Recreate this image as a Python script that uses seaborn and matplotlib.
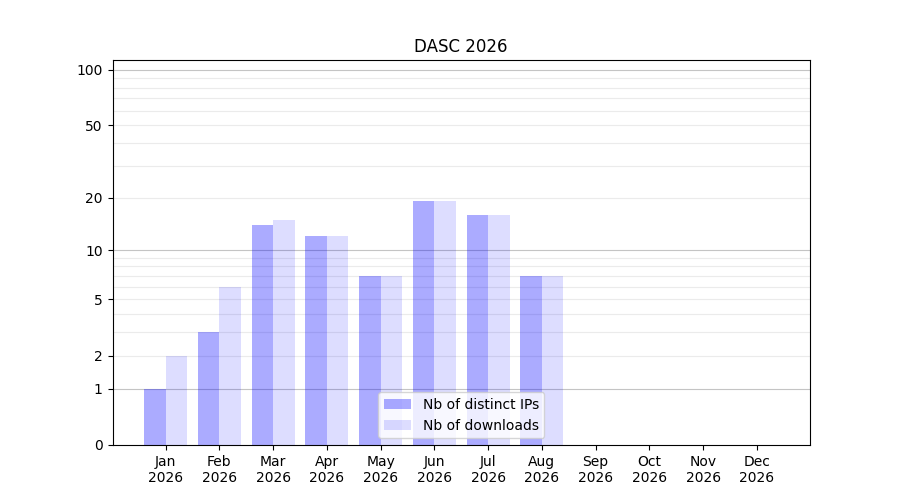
import numpy as np
import pandas as pd
import matplotlib
matplotlib.use("Agg")
import matplotlib.pyplot as plt
import seaborn as sns

months = ["Jan", "Feb", "Mar", "Apr", "May", "Jun", "Jul", "Aug", "Sep", "Oct", "Nov", "Dec"]
year = "2026"
distinct_ips = [1, 3, 14, 12, 7, 19, 16, 7, 0, 0, 0, 0]
downloads = [2, 6, 15, 12, 7, 19, 16, 7, 0, 0, 0, 0]
series_names = ["Nb of distinct IPs", "Nb of downloads"]
ytick_values = [0, 1, 2, 5, 10, 20, 50, 100]
title = "DASC 2026"

labels = [f"{m}\n{year}" for m in months]
df = pd.DataFrame({
    "month": labels * 2,
    "value": distinct_ips + downloads,
    "series": [series_names[0]] * len(months) + [series_names[1]] * len(months),
})

fig, ax = plt.subplots(figsize=(9, 5), dpi=100)


def fwd(y):
    y = np.asarray(y, dtype=float)
    return np.log10(1 + np.clip(y, -0.999999, None))


def inv(y):
    return 10 ** np.asarray(y, dtype=float) - 1


ax.set_yscale("function", functions=(fwd, inv))

# grid lines
for v in [3, 4, 6, 7, 8, 9, 30, 40, 60, 70, 80, 90, 2, 5, 20, 50]:
    ax.axhline(v, color="#ebebeb", lw=0.8, zorder=0)
for v in [1, 10, 100]:
    ax.axhline(v, color="#c4c4c4", lw=0.8, zorder=0)

sns.barplot(data=df, x="month", y="value", hue="series",
            palette=["blue", "blue"], saturation=1, legend=False,
            width=0.8, ax=ax, zorder=2)

for cont, alpha, name in zip(ax.containers, [0.33, 0.135], series_names):
    for p in cont:
        p.set_alpha(alpha)
        p.set_edgecolor("none")
    cont.set_label(name)

ax.set_ylim(0, 113)
ax.set_xlim(-0.99, 11.99)
ax.set_yticks(ytick_values)
ax.set_yticklabels([str(v) for v in ytick_values])
ax.yaxis.set_minor_locator(matplotlib.ticker.NullLocator())
ax.set_xlabel("")
ax.set_ylabel("")
ax.set_title(title)
ax.legend(loc="lower center")

fig.savefig("out.png", dpi=100)
